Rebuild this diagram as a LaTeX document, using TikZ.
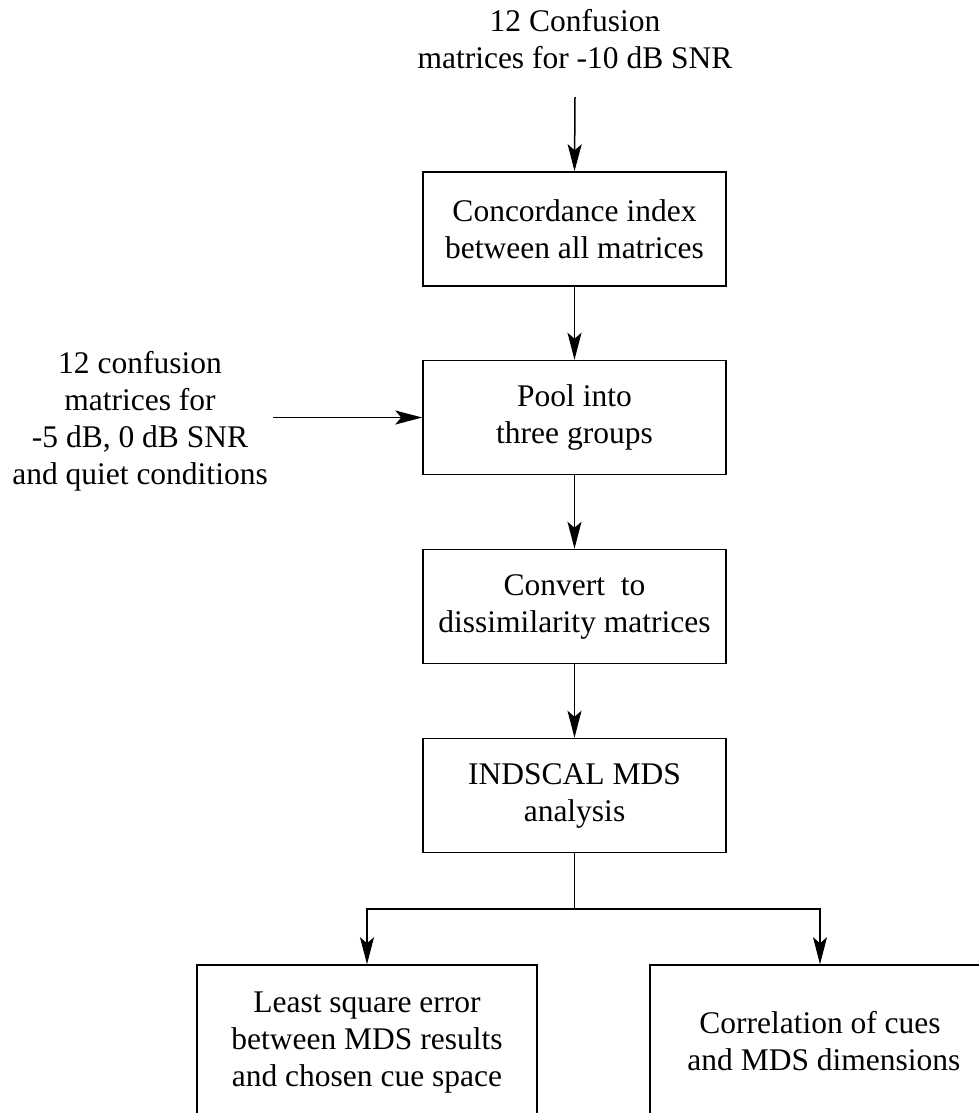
\documentclass[tikz,border=0pt]{standalone}
\usepackage{fontspec}
\setmainfont{Liberation Serif}
\usetikzlibrary{arrows.meta}
\begin{document}
\begin{tikzpicture}[x=1pt,y=-1pt,
  txt/.style={align=center,inner sep=0pt,font=\fontsize{31.5}{37}\selectfont},
  box/.style={txt,draw,line width=1.5pt,minimum width=303pt,minimum height=114pt},
  endbox/.style={txt,draw,line width=1.5pt,minimum width=340pt},
  arr/.style={line width=1.5pt,-{Stealth[length=27pt,width=14pt,inset=6pt]}},
  ln/.style={line width=1.5pt}]
\useasboundingbox (0,0) rectangle (979,1113);
\clip (0,0) rectangle (979,1113);
\node[txt] (top) at (575,39.5) {12 Confusion\\matrices for -10 dB SNR};
\node[txt] (lt) at (140,421) {12 confusion\\matrices for\\-5 dB, 0 dB SNR\\and quiet conditions};
\node[box] (b1) at (574.5,229) {Concordance index\\between all matrices};
\node[box] (b2) at (574.5,417.5) {Pool into\\three groups};
\node[box] (b3) at (574.5,606.5) {Convert\ \ to\\dissimilarity matrices};
\node[box] (b4) at (574.5,795.5) {INDSCAL MDS\\analysis};
\node[endbox,minimum height=156pt] (bl) at (367,1043) {Least square error\\between MDS results\\and chosen cue space};
\node[endbox,minimum height=152pt] (brt) at (820,1041) {Correlation of cues\\\ and MDS dimensions};
\coordinate (tstart) at (575,97);
\coordinate (lstart) at (273,417.5);
\coordinate (br) at (574.5,909);
\draw[arr] (tstart) -- (b1.north);
\draw[arr] (b1.south) -- (b2.north);
\draw[arr] (lstart) -- (b2.west);
\draw[arr] (b2.south) -- (b3.north);
\draw[arr] (b3.south) -- (b4.north);
\draw[ln] (b4.south) -- (br);
\draw[arr] (br) -| (bl.north);
\draw[arr] (br) -| (brt.north);
\end{tikzpicture}
\end{document}
